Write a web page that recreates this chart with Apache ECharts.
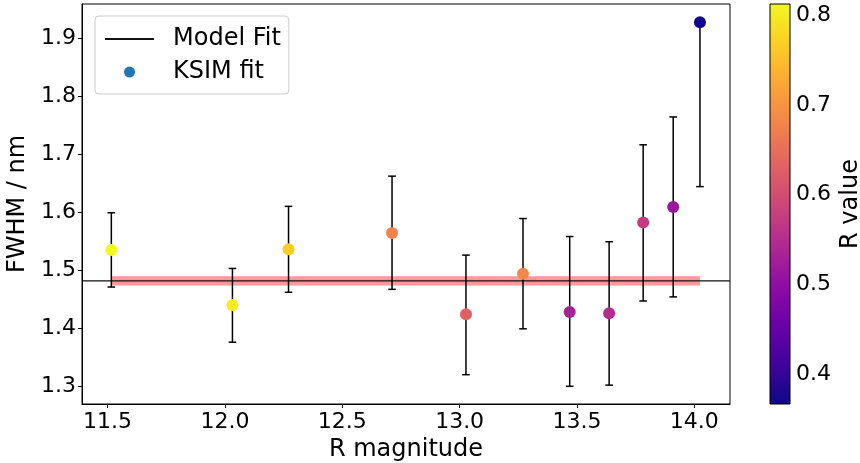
<!DOCTYPE html>
<html>
<head>
<meta charset="utf-8">
<script src="https://cdn.jsdelivr.net/npm/echarts@6/dist/echarts.min.js"></script>
<style>
  html, body { margin: 0; padding: 0; background: #fff; }
  #chart { width: 860px; height: 463px; }
</style>
</head>
<body>
<div id="chart"></div>
<script>
// Measured FWHM per star, with asymmetric error bounds and the fit's R value
const rMagnitude = [11.516, 12.032, 12.271, 12.712, 13.027, 13.270, 13.469, 13.637, 13.782, 13.910, 14.024];
const fwhm       = [1.535, 1.440, 1.536, 1.564, 1.424, 1.494, 1.428, 1.426, 1.582, 1.609, 1.927];
const fwhmLow    = [1.471, 1.376, 1.462, 1.467, 1.320, 1.399, 1.300, 1.302, 1.447, 1.454, 1.644];
const fwhmHigh   = [1.599, 1.503, 1.610, 1.662, 1.526, 1.589, 1.558, 1.549, 1.716, 1.764, 1.927];
const rValue     = [0.810, 0.800, 0.768, 0.679, 0.630, 0.685, 0.532, 0.549, 0.572, 0.514, 0.370];

// Model fit level and its uncertainty band
const modelFit  = 1.4816;
const modelBand = [1.4735, 1.4895];

// Axis limits and tick labels
const xRange = [11.391, 14.152];
const yRange = [1.2695, 1.9586];
const cRange = [0.3666, 0.8125];
const xTicks = [11.5, 12.0, 12.5, 13.0, 13.5, 14.0];
const yTicks = [1.3, 1.4, 1.5, 1.6, 1.7, 1.8, 1.9];
const cTicks = [0.4, 0.5, 0.6, 0.7, 0.8];

// plasma colormap
const plasma = ['#0d0887', '#41049d', '#6a00a8', '#8f0da4', '#b12a90', '#cc4778',
                '#e16462', '#f2844b', '#fca636', '#fcce25', '#f0f921'];

const FONT = 'DejaVu Sans';

const points = rMagnitude.map((x, i) => [x, fwhm[i], rValue[i]]);
const errors = rMagnitude.map((x, i) => [x, fwhmLow[i], fwhmHigh[i]]);

const chart = echarts.init(document.getElementById('chart'), null, { renderer: 'canvas' });

chart.setOption({
  animation: false,
  backgroundColor: '#fff',
  textStyle: { fontFamily: FONT },
  grid: [
    { left: 82, right: 130, top: 4, bottom: 59, outerBoundsMode: 'none', containLabel: false,
      show: true, borderColor: '#000', borderWidth: 1, backgroundColor: 'transparent' },
    { left: 770, width: 20, top: 4, bottom: 59, outerBoundsMode: 'none', containLabel: false }
  ],
  xAxis: [
    {
      gridIndex: 0, type: 'value', min: xRange[0], max: xRange[1],
      name: 'R magnitude', nameLocation: 'middle', nameGap: 30,
      nameTextStyle: { fontSize: 24, color: '#000', fontFamily: FONT },
      axisLine: { show: true, onZero: false, lineStyle: { color: '#000', width: 1 } },
      axisTick: { show: true, inside: false, length: 4, customValues: xTicks, lineStyle: { color: '#000', width: 1 } },
      axisLabel: { show: true, customValues: xTicks, margin: 7, fontSize: 22, color: '#000', fontFamily: FONT,
                   formatter: v => v.toFixed(1) },
      splitLine: { show: false }
    },
    { gridIndex: 1, type: 'value', min: 0, max: 1, show: false }
  ],
  yAxis: [
    {
      gridIndex: 0, type: 'value', min: yRange[0], max: yRange[1],
      name: 'FWHM / nm', nameLocation: 'middle', nameGap: 43,
      nameTextStyle: { fontSize: 24, color: '#000', fontFamily: FONT },
      axisLine: { show: true, onZero: false, lineStyle: { color: '#000', width: 1 } },
      axisTick: { show: true, inside: false, length: 4, customValues: yTicks, lineStyle: { color: '#000', width: 1 } },
      axisLabel: { show: true, customValues: yTicks, margin: 6, fontSize: 22, color: '#000', fontFamily: FONT,
                   formatter: v => v.toFixed(1) },
      splitLine: { show: false }
    },
    {
      gridIndex: 1, type: 'value', position: 'right', min: cRange[0], max: cRange[1],
      name: 'R value', nameLocation: 'middle', nameGap: 49,
      nameTextStyle: { fontSize: 24, color: '#000', fontFamily: FONT },
      axisLine: { show: false },
      axisTick: { show: true, inside: false, length: 4, customValues: cTicks, lineStyle: { color: '#000', width: 1 } },
      axisLabel: { show: true, customValues: cTicks, margin: 6, fontSize: 22, color: '#000', fontFamily: FONT,
                   formatter: v => v.toFixed(1) },
      splitLine: { show: false }
    }
  ],
  visualMap: {
    type: 'continuous', show: false, seriesIndex: 3, dimension: 2,
    min: cRange[0], max: cRange[1],
    inRange: { color: plasma }
  },
  legend: {
    orient: 'vertical', left: 95, top: 16,
    padding: [9, 8, 8, 9], itemGap: 5, itemWidth: 49, itemHeight: 11,
    backgroundColor: 'rgba(255,255,255,0.8)', borderColor: '#cccccc', borderWidth: 1, borderRadius: 4,
    textStyle: { fontSize: 24, color: '#000', fontFamily: FONT, lineHeight: 28, padding: [0, 0, 0, 14] },
    data: [
      { name: 'Model Fit', itemStyle: { opacity: 0 } },
      { name: 'KSIM fit', icon: 'circle', itemStyle: { color: '#1f77b4' } }
    ]
  },
  series: [
    {
      // shaded uncertainty band of the model fit
      type: 'custom', name: 'band', xAxisIndex: 0, yAxisIndex: 0, z: 1, silent: true,
      data: [[rMagnitude[0], modelBand[0], rMagnitude[rMagnitude.length - 1], modelBand[1]]],
      renderItem: (params, api) => {
        const a = api.coord([api.value(0), api.value(3)]);
        const b = api.coord([api.value(2), api.value(1)]);
        return { type: 'rect', shape: { x: a[0], y: a[1], width: b[0] - a[0], height: b[1] - a[1] },
                 style: { fill: 'rgba(255,0,0,0.4)' } };
      }
    },
    {
      type: 'line', name: 'Model Fit', xAxisIndex: 0, yAxisIndex: 0, z: 2,
      symbol: 'none', silent: true,
      lineStyle: { color: '#111', width: 1.1 },
      itemStyle: { color: '#111' },
      data: [[xRange[0], modelFit], [xRange[1], modelFit]]
    },
    {
      // error bars with caps
      type: 'custom', name: 'errors', xAxisIndex: 0, yAxisIndex: 0, z: 3, silent: true,
      data: errors,
      renderItem: (params, api) => {
        const lo = api.coord([api.value(0), api.value(1)]);
        const hi = api.coord([api.value(0), api.value(2)]);
        const cap = 3.8;
        const st = { stroke: '#000', lineWidth: 1.5 };
        return {
          type: 'group',
          children: [
            { type: 'line', shape: { x1: lo[0], y1: lo[1], x2: hi[0], y2: hi[1] }, style: st },
            { type: 'line', shape: { x1: lo[0] - cap, y1: lo[1], x2: lo[0] + cap, y2: lo[1] }, style: st },
            { type: 'line', shape: { x1: hi[0] - cap, y1: hi[1], x2: hi[0] + cap, y2: hi[1] }, style: st }
          ]
        };
      }
    },
    {
      type: 'scatter', name: 'KSIM fit', xAxisIndex: 0, yAxisIndex: 0, z: 4,
      symbol: 'circle', symbolSize: 12,
      itemStyle: { color: '#1f77b4', opacity: 1 },
      data: points
    },
    {
      // colorbar
      type: 'custom', name: 'colorbar', xAxisIndex: 1, yAxisIndex: 1, silent: true,
      data: [[0, cRange[0], 1, cRange[1]]],
      renderItem: (params, api) => {
        const a = api.coord([api.value(0), api.value(3)]);
        const b = api.coord([api.value(2), api.value(1)]);
        const stops = plasma.map((c, i) => ({ offset: i / (plasma.length - 1), color: c }));
        return { type: 'rect', shape: { x: a[0], y: a[1], width: b[0] - a[0], height: b[1] - a[1] },
                 style: { fill: new echarts.graphic.LinearGradient(0, 1, 0, 0, stops), stroke: '#000', lineWidth: 1 } };
      }
    }
  ]
});
</script>
</body>
</html>
